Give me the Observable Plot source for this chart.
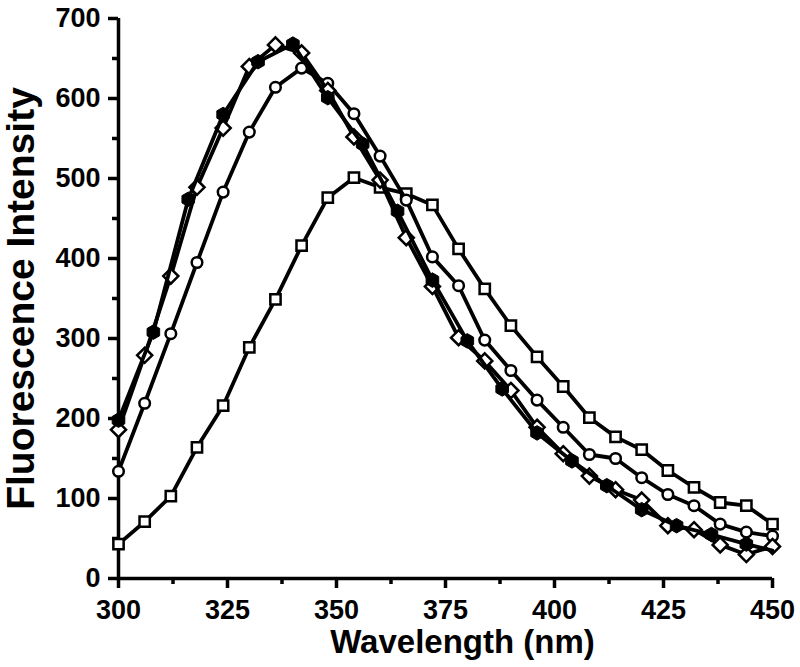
<!DOCTYPE html>
<html>
<head>
<meta charset="utf-8">
<script src="https://cdn.jsdelivr.net/npm/d3@7"></script>
<script src="https://cdn.jsdelivr.net/npm/@observablehq/plot@0.6"></script>
<style>
  html, body { margin: 0; padding: 0; background: #fff; }
</style>
</head>
<body>
<div id="chart"></div>
<script>
// Wavelengths (nm) at which the open markers sit (every 6 nm)
const wl6 = [300,306,312,318,324,330,336,342,348,354,360,366,372,378,384,390,396,402,408,414,420,426,432,438,444,450];
// Wavelengths for the filled series (markers every 8 nm, line ends at 450)
const wl8 = [300,308,316,324,332,340,348,356,364,372,380,388,396,404,412,420,428,436,444,450];

const squareY  = [43,71,103,164,216,289,349,416,476,501,489,481,467,412,362,316,277,240,201,177,161,135,114,95,91,68];
const circleY  = [134,219,306,395,483,558,614,638,619,581,528,473,402,366,298,260,223,189,155,150,126,105,91,68,58,53];
const diamondY = [186,279,378,489,563,640,667,657,610,552,498,426,365,301,272,235,189,156,128,111,98,66,61,42,30,40];
const filledY  = [198,308,474,580,646,668,601,543,459,373,297,237,182,147,116,86,66,55,43,35];

const xMajor = [300,325,350,375,400,425,450];
const xMinor = [312.5,337.5,362.5,387.5,412.5,437.5];
const yMajor = [0,100,200,300,400,500,600,700];
const yMinor = [50,150,250,350,450,550,650];

const xLabel = "Wavelength (nm)";
const yLabel = "Fluorescence Intensity";

const rows = (xs, ys) => xs.map((x, i) => ({x, y: ys[i]}));
const sq = rows(wl6, squareY);
const ci = rows(wl6, circleY);
const di = rows(wl6, diamondY);
const fi = rows(wl8, filledY);
const fiMarkers = fi.filter(d => (d.x - 300) % 8 === 0);

const lineOpts = {x: "x", y: "y", stroke: "black", strokeWidth: 3.8, strokeLinejoin: "round"};

const chart = Plot.plot({
  width: 800,
  height: 667,
  marginLeft: 118,
  marginRight: 28,
  marginTop: 18,
  marginBottom: 89,
  x: {domain: [300, 450]},
  y: {domain: [0, 700]},
  style: {fontFamily: "'Liberation Sans', Arial, sans-serif", fontWeight: "bold", fontSize: "27px", color: "black", background: "white"},
  marks: [
    Plot.axisX(xMajor, {tickSize: 10, tickPadding: 11, strokeWidth: 3.5, label: null, fontSize: 27, fontWeight: "bold"}),
    Plot.axisX(xMinor, {tickSize: 6, text: null, strokeWidth: 3.5, label: null}),
    Plot.axisY(yMajor, {tickSize: 10, tickPadding: 8, strokeWidth: 3.5, label: null, fontSize: 27, fontWeight: "bold"}),
    Plot.axisY(yMinor, {tickSize: 6, text: null, strokeWidth: 3.5, label: null}),
    Plot.ruleY([0], {stroke: "black", strokeWidth: 3.5}),
    Plot.ruleX([300], {stroke: "black", strokeWidth: 3.5}),

    Plot.line(sq, lineOpts),
    Plot.dot(sq, {x: "x", y: "y", symbol: "square", r: 5.8, fill: "white", stroke: "black", strokeWidth: 2.5}),

    Plot.line(ci, lineOpts),
    Plot.dot(ci, {x: "x", y: "y", symbol: "circle", r: 5.3, fill: "white", stroke: "black", strokeWidth: 2.5}),

    Plot.line(di, lineOpts),
    Plot.dot(di, {x: "x", y: "y", symbol: "diamond2", r: 6.8, fill: "white", stroke: "black", strokeWidth: 2.5}),

    Plot.line(fi, lineOpts),
    Plot.dot(fiMarkers, {x: "x", y: "y", symbol: "hexagon", r: 6.3, fill: "black", stroke: "black", strokeWidth: 1}),

    Plot.text([xLabel], {text: d => d, frameAnchor: "bottom", dx: 17, dy: 64, fontSize: 33, fontWeight: "bold", lineAnchor: "middle"}),
    Plot.text([yLabel], {text: d => d, frameAnchor: "left", rotate: -90, dx: -97, fontSize: 39, fontWeight: "bold", textAnchor: "middle", lineAnchor: "middle"})
  ]
});
document.getElementById("chart").appendChild(chart);
</script>
</body>
</html>
